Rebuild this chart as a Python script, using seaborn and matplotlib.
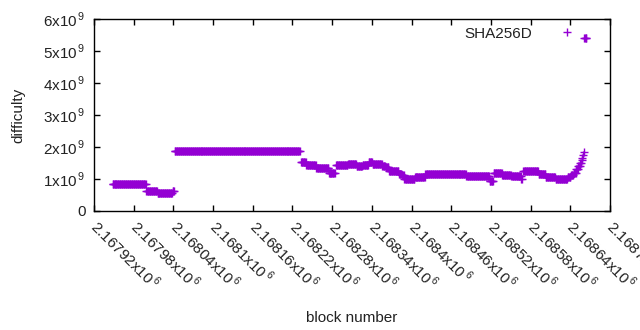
import numpy as np
import pandas as pd
import seaborn as sns
import matplotlib.pyplot as plt
from matplotlib.lines import Line2D
from matplotlib.ticker import FixedLocator, FuncFormatter

# difficulty held constant over runs of blocks
seg_start = [2167948, 2167999, 2168016, 2168039, 2168042, 2168233, 2168241, 2168256,
             2168275, 2168286, 2168304, 2168317, 2168326, 2168335, 2168341, 2168356,
             2168361, 2168366, 2168381, 2168385, 2168389, 2168405, 2168421, 2168483,
             2168518, 2168524, 2168537, 2168551, 2168566, 2168569, 2168592, 2168603,
             2168618, 2168636, 2168641, 2168645, 2168649, 2168652, 2168655, 2168657,
             2168658, 2168659, 2168660, 2168661]
seg_end = [2167998, 2168015, 2168038, 2168041, 2168231, 2168240, 2168255, 2168274,
           2168284, 2168303, 2168316, 2168325, 2168334, 2168340, 2168355, 2168360,
           2168365, 2168380, 2168384, 2168388, 2168404, 2168420, 2168482, 2168517,
           2168523, 2168536, 2168550, 2168565, 2168567, 2168591, 2168602, 2168617,
           2168635, 2168640, 2168644, 2168648, 2168651, 2168654, 2168656, 2168657,
           2168658, 2168659, 2168660, 2168664]
seg_diff = [0.83, 0.635, 0.575, 0.64, 1.89, 1.54, 1.44, 1.33,
            1.18, 1.43, 1.47, 1.40, 1.43, 1.54, 1.46, 1.42,
            1.37, 1.25, 1.17, 1.11, 0.99, 1.06, 1.16, 1.09,
            0.94, 1.18, 1.12, 1.09, 0.99, 1.25, 1.15, 1.07,
            1.00, 1.05, 1.12, 1.20, 1.30, 1.40, 1.50, 1.58,
            1.66, 1.75, 1.84, 5.40]  # x1e9

xticks = [2167920 + 60 * i for i in range(14)]
xlabels = ["2.16792", "2.16798", "2.16804", "2.1681", "2.16816", "2.16822", "2.16828",
           "2.16834", "2.1684", "2.16846", "2.16852", "2.16858", "2.16864", "2.1687"]

blocks, diffs = [], []
for a, b, d in zip(seg_start, seg_end, seg_diff):
    for blk in range(a, b + 1):
        blocks.append(blk)
        diffs.append(d * 1e9)
df = pd.DataFrame({"block": blocks, "difficulty": diffs})

purple = "#9400D3"
txt = "#222222"

sns.set_style("ticks")
plt.rcParams["font.family"] = ["Liberation Sans", "DejaVu Sans"]
plt.rcParams["mathtext.fontset"] = "custom"
plt.rcParams["mathtext.rm"] = "Liberation Sans"

fig = plt.figure(figsize=(6.4, 3.3), dpi=100)
ax = fig.add_axes([94 / 640, 1 - 211 / 330, 516 / 640, 192 / 330])

sns.scatterplot(data=df, x="block", y="difficulty", marker="+", s=30,
                linewidth=1, color=purple, legend=False, ax=ax)

ax.set_xlim(2167920, 2168700)
ax.set_ylim(0, 6e9)
ax.xaxis.set_major_locator(FixedLocator(xticks))
ax.set_xticklabels([l + "x10$^{\\,\\mathregular{6}}$" for l in xlabels],
                   rotation=-45, ha="left", va="center", rotation_mode="anchor")
ax.yaxis.set_major_locator(FixedLocator([i * 1e9 for i in range(7)]))
ax.yaxis.set_major_formatter(FuncFormatter(
    lambda v, p: "0" if v == 0 else "%dx10$^{\\,\\mathregular{9}}$" % round(v / 1e9)))

ax.tick_params(direction="in", length=4, width=1, top=True, right=True,
               labelsize=11, colors="black", labelcolor=txt)
ax.tick_params(axis="x", pad=9)
ax.tick_params(axis="y", pad=6)
for s in ax.spines.values():
    s.set_linewidth(1)
    s.set_color("black")

ax.set_xlabel("block number", fontsize=11, color=txt, labelpad=13)
ax.set_ylabel("difficulty", fontsize=11, color=txt, labelpad=13)

handle = Line2D([], [], linestyle="none", marker="+", markersize=6,
                markeredgewidth=1, color=purple)
ax.legend([handle], ["SHA256D"], loc="upper right",
          bbox_to_anchor=(0.946, 0.96), frameon=False, markerfirst=False,
          fontsize=11, handlelength=2.0, handletextpad=1.3, borderpad=0,
          borderaxespad=0, labelcolor=txt)

fig.savefig("out.png", dpi=100)
